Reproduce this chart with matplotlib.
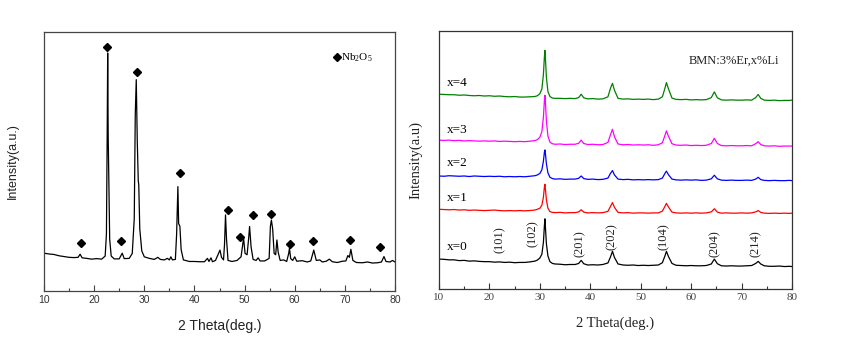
import matplotlib
matplotlib.use("Agg")
import matplotlib.pyplot as plt
from matplotlib.ticker import MultipleLocator

plt.rcParams['font.family'] = ['Liberation Sans', 'DejaVu Sans']
plt.rcParams['mathtext.fontset'] = 'custom'
plt.rcParams['mathtext.rm'] = 'Liberation Serif'

# ---------------- Left panel: Nb2O5 pattern ----------------
nb_theta = [10, 11, 12, 13, 14, 15, 16, 16.8, 17.2, 17.6, 18.5, 19.5, 20.5, 21.5, 22.2,
            22.45, 22.6, 22.7, 22.8, 22.95, 23.1, 23.4, 24, 25, 25.6, 26, 27, 27.6,
            28.0, 28.2, 28.4, 28.6, 28.8, 28.9, 29.1, 29.5, 30, 31, 32, 32.7, 33.2, 34,
            34.6, 35, 35.3, 35.6, 36.2, 36.45, 36.7, 36.85, 37.1, 37.35, 37.8, 39, 40,
            41, 42, 42.6, 42.9, 43.3, 43.6, 44.2, 44.8, 45.1, 45.4, 45.8, 46.0, 46.2,
            46.4, 46.7, 47.5, 48.5, 49.3, 49.8, 50.1, 50.5, 50.8, 51.0, 51.3, 51.7,
            52.3, 52.7, 53.1, 54, 54.9, 55.15, 55.35, 55.6, 55.9, 56.2, 56.45, 56.7,
            57.1, 57.8, 58.4, 58.8, 58.95, 59.2, 59.6, 60.0, 60.4, 61.5, 62.5, 63.2,
            63.8, 64.3, 65, 65.5, 66.3, 66.9, 67.5, 68.5, 69.5, 70.2, 70.6, 70.9, 71.2,
            71.6, 72.3, 73.5, 74.5, 75.5, 76.5, 77.3, 77.8, 78.2, 79, 79.5, 80]
nb_intensity = [14.6, 14.3, 14.1, 13.6, 13.3, 13.0, 12.9, 13.0, 14.2, 12.8, 12.6, 12.3, 12.5, 12.3, 13.5,
                22.0, 60.0, 91.9, 60.0, 40.0, 20.0, 13.5, 12.4, 12.4, 14.6, 12.5, 12.6, 14.5,
                28.0, 68.0, 81.6, 58.0, 42.5, 41.0, 24.0, 15.5, 13.2, 12.6, 12.2, 13.0, 12.2, 12.0,
                12.6, 12.0, 13.2, 12.0, 12.2, 22.0, 40.3, 26.0, 25.0, 16.0, 12.0, 11.4, 11.4,
                11.3, 11.3, 12.6, 11.4, 12.8, 11.3, 11.8, 14.5, 15.8, 13.0, 12.0, 18.0, 29.4,
                20.0, 11.8, 11.4, 11.8, 13.2, 20.4, 14.5, 14.0, 20.0, 24.9, 17.0, 12.2,
                11.8, 12.8, 11.6, 11.6, 12.6, 25.0, 27.4, 24.0, 14.5, 14.0, 19.7, 15.0,
                11.8, 12.0, 11.4, 14.5, 16.5, 12.5, 11.8, 13.2, 11.5, 11.7, 11.2, 11.6,
                15.8, 11.8, 12.0, 11.2, 11.5, 12.3, 11.3, 11.0, 11.5, 11.6, 13.7, 13.0, 16.1,
                11.8, 11.0, 10.9, 11.2, 10.8, 10.9, 11.2, 13.3, 11.4, 11.2, 11.8, 11.2]
peak_mark_theta = [17.4, 22.6, 25.3, 28.5, 37.2, 46.7, 49.1, 51.7, 55.3, 59.0, 63.6, 71.1, 77.1]
peak_mark_height = [18.4, 94.1, 19.2, 84.5, 45.5, 31.3, 21.0, 29.4, 29.8, 18.0, 19.2, 19.5, 16.8]

# ---------------- Right panel: BMN:3%Er,x%Li ----------------
theta = [10, 11, 12, 13, 14, 15, 16, 17, 18, 19, 20, 21, 22, 23, 24, 25, 26, 27, 28, 29,
         29.5, 30.0, 30.4, 30.7, 30.9, 31.0, 31.1, 31.3, 31.6, 32.0, 32.5,
         33, 34, 35, 36, 37, 37.7, 38.2, 38.7, 39.5, 40.5, 41.5, 42.5, 43.5,
         44.0, 44.4, 44.8, 45.5, 46.5, 47.5, 48.5, 49.5, 50.5, 51.5, 52.5, 53.5,
         54.3, 54.8, 55.1, 55.5, 56.2, 57, 58, 59, 60, 61, 62, 63, 64, 64.6, 65.2,
         66, 67, 68, 69, 70, 71, 72, 72.8, 73.3, 73.8, 74.5, 75.5, 76.5, 77.5, 78.5, 79.5, 80]
x0 = [11.6, 11.5, 11.3, 11.3, 11.0, 11.1, 10.8, 10.9, 10.7, 10.6, 10.6, 10.4, 10.5, 10.3, 10.4, 10.2, 10.3, 10.3, 10.5, 10.8,
      11.2, 12.0, 13.5, 18.0, 24.5, 27.2, 24.0, 17.5, 12.8, 10.6, 9.9,
      9.7, 9.6, 9.4, 9.5, 9.5, 9.9, 11.1, 9.8, 9.3, 9.4, 9.3, 9.5, 10.1,
      12.4, 14.6, 12.2, 9.7, 9.3, 9.2, 9.3, 9.1, 9.2, 9.1, 9.2, 9.3,
      10.2, 12.8, 14.6, 12.6, 9.9, 9.2, 9.1, 9.0, 9.1, 9.0, 9.0, 9.1, 9.7, 11.6, 9.8,
      9.0, 8.9, 9.0, 8.9, 8.9, 9.0, 9.1, 9.9, 10.7, 9.7, 9.0, 8.8, 8.8, 8.9, 8.7, 8.8, 8.7]
x1 = [30.9, 30.8, 30.7, 30.8, 30.6, 30.7, 30.5, 30.6, 30.5, 30.4, 30.5, 30.6, 30.4, 30.3, 30.4, 30.3, 30.4, 30.3, 30.4, 30.6,
      30.9, 31.3, 32.5, 35.5, 39.5, 40.6, 38.8, 34.5, 31.3, 30.0, 29.7,
      29.6, 29.7, 29.5, 29.6, 29.6, 29.9, 30.7, 29.8, 29.5, 29.6, 29.5, 29.6, 30.1,
      32.0, 33.5, 31.6, 29.7, 29.5, 29.6, 29.4, 29.5, 29.5, 29.4, 29.5, 29.5,
      30.2, 32.0, 33.2, 31.8, 29.8, 29.5, 29.4, 29.5, 29.4, 29.5, 29.4, 29.5, 29.9, 31.1, 29.8,
      29.4, 29.5, 29.4, 29.4, 29.5, 29.4, 29.5, 29.9, 30.4, 29.7, 29.4, 29.3, 29.4, 29.3, 29.4, 29.3, 29.4]
x2 = [43.8, 43.7, 43.9, 43.8, 43.7, 43.8, 43.6, 43.8, 43.7, 43.6, 43.7, 43.6, 43.7, 43.5, 43.6, 43.5, 43.6, 43.5, 43.7, 43.9,
      44.2, 44.8, 46.2, 49.5, 53.0, 53.9, 52.5, 48.5, 45.0, 43.3, 42.8,
      42.6, 42.7, 42.5, 42.6, 42.6, 42.9, 43.8, 42.8, 42.5, 42.6, 42.4, 42.5, 43.0,
      44.8, 45.9, 44.2, 42.6, 42.4, 42.5, 42.3, 42.4, 42.3, 42.4, 42.3, 42.4,
      43.0, 44.8, 45.7, 44.3, 42.6, 42.3, 42.2, 42.3, 42.2, 42.3, 42.1, 42.2, 42.7, 44.1, 42.7,
      42.2, 42.1, 42.2, 42.1, 42.1, 42.2, 42.1, 42.6, 43.3, 42.4, 42.1, 42.0, 42.1, 42.0, 42.0, 42.1, 42.0]
x3 = [57.7, 57.6, 57.7, 57.5, 57.6, 57.4, 57.5, 57.4, 57.3, 57.4, 57.3, 57.4, 57.2, 57.3, 57.2, 57.1, 57.2, 57.1, 57.3, 57.5,
      57.9, 58.8, 61.0, 66.5, 73.0, 75.1, 72.5, 65.0, 59.3, 56.9, 56.3,
      56.1, 56.2, 56.0, 56.1, 56.1, 56.5, 57.7, 56.4, 56.0, 56.1, 55.9, 56.0, 56.8,
      59.8, 61.9, 59.0, 56.2, 55.9, 56.0, 55.8, 55.9, 55.8, 55.9, 55.7, 55.9,
      56.7, 59.5, 61.3, 59.2, 56.3, 55.8, 55.7, 55.8, 55.6, 55.7, 55.6, 55.7, 56.4, 58.4, 56.4,
      55.6, 55.5, 55.6, 55.5, 55.5, 55.6, 55.5, 56.3, 57.1, 56.0, 55.5, 55.4, 55.5, 55.3, 55.4, 55.4, 55.4]
x4 = [75.5, 75.4, 75.3, 75.3, 75.1, 75.2, 75.0, 74.9, 75.0, 74.8, 74.9, 74.7, 74.8, 74.6, 74.5, 74.6, 74.4, 74.4, 74.5, 74.6,
      74.9, 75.7, 77.5, 83.0, 90.0, 92.5, 89.5, 82.0, 76.5, 74.6, 74.0,
      73.9, 73.9, 73.8, 73.9, 73.8, 74.2, 75.5, 74.1, 73.7, 73.8, 73.6, 73.7, 74.5,
      77.8, 79.7, 77.0, 73.9, 73.6, 73.7, 73.5, 73.6, 73.5, 73.6, 73.4, 73.6,
      74.5, 77.8, 80.0, 77.6, 74.0, 73.5, 73.4, 73.5, 73.3, 73.4, 73.3, 73.4, 74.2, 76.4, 74.1,
      73.3, 73.2, 73.3, 73.2, 73.2, 73.3, 73.2, 74.2, 75.4, 73.9, 73.2, 73.1, 73.2, 73.0, 73.1, 73.1, 73.2]
series = [x0, x1, x2, x3, x4]
series_labels = ["x=0", "x=1", "x=2", "x=3", "x=4"]
series_colors = ["#000000", "#ff0000", "#0000ff", "#ff00ff", "#008000"]
label_y = [16.3, 35.3, 48.8, 61.6, 79.8]

hkl_labels = ["(101)", "(102)", "(201)", "(202)", "(104)", "(204)", "(214)"]
hkl_theta = [22.1, 28.6, 37.9, 44.3, 54.5, 64.6, 72.8]
hkl_y = [19.1, 21.4, 17.7, 20.4, 20.4, 17.5, 17.5]

xtick_values = [10, 20, 30, 40, 50, 60, 70, 80]
xtick_labels = ["10", "20", "30", "40", "50", "60", "70", "80"]

W, H = 841, 340
fig = plt.figure(figsize=(W / 100, H / 100), dpi=100)

def setup(ax, family, tick_color, spine_color, tick_fs):
    ax.set_xlim(10, 80)
    ax.set_ylim(0, 100)
    ax.set_xticks(xtick_values)
    ax.set_xticklabels(xtick_labels, fontfamily=family, fontsize=tick_fs, color=tick_color)
    ax.xaxis.set_minor_locator(MultipleLocator(5))
    ax.set_yticks([])
    ax.tick_params(axis='x', which='major', direction='in', length=4, width=0.8,
                   top=False, pad=3, color=spine_color)
    ax.tick_params(axis='x', which='minor', direction='in', length=2.5, width=0.8,
                   top=False, color=spine_color)
    for s in ax.spines.values():
        s.set_color(spine_color)
        s.set_linewidth(0.9)

# Left axes
axL = fig.add_axes([44 / W, (H - 291) / H, 351 / W, 259 / H])
axL.plot(nb_theta, nb_intensity, color='black', lw=0.9)
axL.plot(peak_mark_theta, peak_mark_height, linestyle='none', marker='D',
         markersize=4.5, color='black')
setup(axL, 'Liberation Sans', '#333333', '#444444', 7.5)
axL.set_xlabel("2 Theta(deg.)", fontfamily='Liberation Sans', fontsize=10, color='#222222', labelpad=10)
axL.set_ylabel("Intensity(a.u.)", fontfamily='Liberation Sans', fontsize=9, color='#222222', labelpad=18)
axL.plot([68.5], [90.2], linestyle='none', marker='D', markersize=4.5, color='black')
axL.text(69.2, 90.2, "Nb$_2$O$_5$", fontfamily='Liberation Serif', fontsize=8, va='center', ha='left')

# Right axes
axR = fig.add_axes([439 / W, (H - 289) / H, 353 / W, 258 / H])
for ys, c in zip(series, series_colors):
    axR.plot(theta, ys, color=c, lw=0.9)
setup(axR, 'Liberation Serif', '#444444', '#333333', 8)
axR.set_xlabel("2 Theta(deg.)", fontfamily='Liberation Serif', fontsize=10.5, color='#222222', labelpad=10)
axR.set_ylabel("Intensity(a.u)", fontfamily='Liberation Serif', fontsize=10.5, color='#222222', labelpad=12)
for lab, yy in zip(series_labels, label_y):
    axR.text(11.6, yy, lab, fontfamily='Liberation Serif', fontsize=9.5, va='center', ha='left')
for lab, xx, yy in zip(hkl_labels, hkl_theta, hkl_y):
    axR.text(xx, yy, lab, fontfamily='Liberation Serif', fontsize=9, rotation=90,
             va='center', ha='center', color='#222222')
axR.text(68.5, 88.4, "BMN:3%Er,x%Li", fontfamily='Liberation Serif', fontsize=9,
         va='center', ha='center', color='#222222')

fig.savefig("out.png", dpi=100)
